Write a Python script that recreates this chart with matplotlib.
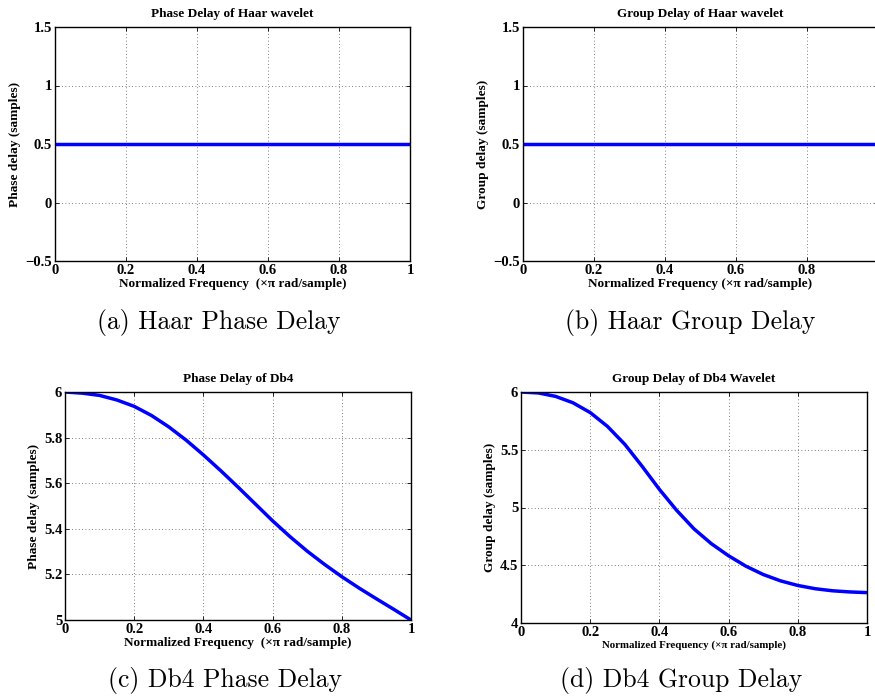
import matplotlib
matplotlib.use("Agg")
import matplotlib.pyplot as plt
import numpy as np

# ---- data ----
haar_freq = [0.0, 1.0]
haar_phase_delay = [0.5, 0.5]
haar_group_delay = [0.5, 0.5]

db4_freq = [0.0, 0.05, 0.1, 0.15, 0.2, 0.25, 0.3, 0.35, 0.4, 0.45, 0.5,
            0.55, 0.6, 0.65, 0.7, 0.75, 0.8, 0.85, 0.9, 0.95, 1.0]
db4_phase_delay = [6.0, 5.995, 5.985, 5.965, 5.937, 5.897, 5.847, 5.789, 5.724, 5.655, 5.583,
                   5.509, 5.435, 5.366, 5.302, 5.244, 5.190, 5.140, 5.093, 5.047, 5.0]
db4_group_delay = [6.0, 5.992, 5.962, 5.907, 5.822, 5.702, 5.547, 5.357, 5.157, 4.975, 4.815,
                   4.687, 4.582, 4.492, 4.420, 4.365, 4.325, 4.297, 4.279, 4.269, 4.263]

haar_yticks = [-0.5, 0, 0.5, 1, 1.5]
haar_yticklabels = ["\u22120.5", "0", "0.5", "1", "1.5"]
db4p_yticks = [5, 5.2, 5.4, 5.6, 5.8, 6]
db4p_yticklabels = ["5", "5.2", "5.4", "5.6", "5.8", "6"]
db4g_yticks = [4, 4.5, 5, 5.5, 6]
db4g_yticklabels = ["4", "4.5", "5", "5.5", "6"]
xticks = [0, 0.2, 0.4, 0.6, 0.8, 1]
xticklabels = ["0", "0.2", "0.4", "0.6", "0.8", "1"]

titles = ["Phase Delay of Haar wavelet", "Group Delay of Haar wavelet",
          "Phase Delay of Db4", "Group Delay of Db4 Wavelet"]
ylabels = ["Phase delay (samples)", "Group delay (samples)",
           "Phase delay (samples)", "Group delay (samples)"]
xlabels = ["Normalized Frequency  (\u00d7\u03c0 rad/sample)",
           "Normalized Frequency (\u00d7\u03c0 rad/sample)",
           "Normalized Frequency  (\u00d7\u03c0 rad/sample)",
           "Normalized Frequency (\u00d7\u03c0 rad/sample)"]
captions = ["(a) Haar Phase Delay", "(b) Haar Group Delay",
            "(c) Db4 Phase Delay", "(d) Db4 Group Delay"]

SERIF = ["Liberation Serif", "DejaVu Serif"]

fig = plt.figure(figsize=(8.75, 6.96), dpi=100)

W, H = 875.0, 696.0
def rect(l, t, r, b):
    return [l / W, 1 - b / H, (r - l) / W, (b - t) / H]

axes_px = [(55, 27, 410, 261), (523, 27, 878, 261),
           (65, 392, 411, 620), (521, 392, 867, 623)]

series = [(haar_freq, haar_phase_delay, haar_yticks, haar_yticklabels, (-0.5, 1.5)),
          (haar_freq, haar_group_delay, haar_yticks, haar_yticklabels, (-0.5, 1.5)),
          (db4_freq, db4_phase_delay, db4p_yticks, db4p_yticklabels, (5, 6)),
          (db4_freq, db4_group_delay, db4g_yticks, db4g_yticklabels, (4, 6))]

xlabel_sizes = [9.5, 9.5, 9.5, 7.8]

for i, (px, (x, y, yt, ytl, ylim)) in enumerate(zip(axes_px, series)):
    ax = fig.add_axes(rect(*px))
    ax.plot(x, y, color="#0000ff", lw=2.5, solid_capstyle="butt", solid_joinstyle="round")
    ax.set_xlim(0, 1)
    ax.set_ylim(*ylim)
    ax.set_xticks(xticks)
    ax.set_xticklabels(xticklabels, fontfamily=SERIF, fontweight="bold", fontsize=10.5)
    ax.set_yticks(yt)
    ax.set_yticklabels(ytl, fontfamily=SERIF, fontweight="bold", fontsize=10.5)
    ax.tick_params(direction="in", length=3, width=0.6, top=True, right=True)
    ax.tick_params(axis="x", pad=2.5)
    ax.tick_params(axis="y", pad=2.0)
    ax.grid(True, linestyle=(0, (1, 3)), color="#555555", lw=0.6)
    for s in ax.spines.values():
        s.set_linewidth(1.0)
        s.set_color("black")
    ax.set_title(titles[i], fontfamily=SERIF, fontweight="bold", fontsize=9.5, pad=7)
    ax.set_ylabel(ylabels[i], fontfamily=SERIF, fontweight="bold", fontsize=9.6, labelpad=3)
    ax.set_xlabel(xlabels[i], fontfamily=SERIF, fontweight="bold", fontsize=xlabel_sizes[i], labelpad=0.5)

cap_pos = [(219, 323), (690, 323), (225, 680), (681, 680)]
for (cx, cy), txt in zip(cap_pos, captions):
    fig.text(cx / W, 1 - cy / H, txt, fontfamily=["cmr10", "DejaVu Serif"], fontsize=18.5,
             ha="center", va="center")

fig.savefig("out.png", dpi=100)
